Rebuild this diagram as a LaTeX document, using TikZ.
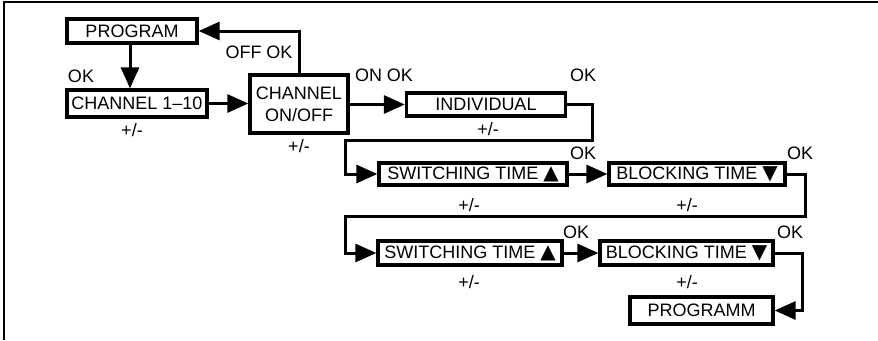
\documentclass[tikz,border=0pt]{standalone}
\usepackage{fontspec}
\setmainfont{Liberation Sans}
\newfontfamily\symfont{DejaVu Sans}
\newcommand{\uptri}{{\symfont\fontsize{20}{21}\selectfont ▲}}
\newcommand{\downtri}{{\symfont\fontsize{20}{21}\selectfont ▼}}
\usetikzlibrary{arrows.meta}
\begin{document}
\begin{tikzpicture}[x=1pt,y=-1pt,
  every node/.style={font=\fontsize{18}{22}\selectfont, inner sep=0pt},
  menubox/.style={draw, line width=3.3pt, align=center},
  lbl/.style={},
  conn/.style={line width=3pt, -{Triangle[length=21pt,width=18pt]}}]
\useasboundingbox (0,0) rectangle (878,340);
\draw[line width=2.5pt] (4,340) -- (4,2) -- (878,2);

\node[menubox, minimum width=130pt, minimum height=24pt] (prog) at (132,31) {PROGRAM};
\node[menubox, minimum width=140pt, minimum height=27pt] (ch) at (137,103.5) {CHANNEL 1--10};
\node[menubox, minimum width=98pt, minimum height=58pt] (onoff) at (299,104) {CHANNEL\\ON/OFF};
\node[menubox, minimum width=159pt, minimum height=23pt] (indiv) at (486,104.5) {INDIVIDUAL};
\node[menubox, minimum width=188pt, minimum height=22pt] (swa) at (473,174) {SWITCHING TIME \uptri};
\node[menubox, minimum width=176pt, minimum height=22pt] (bla) at (697,174) {BLOCKING TIME \downtri};
\node[menubox, minimum width=184pt, minimum height=24pt] (swb) at (470,253) {SWITCHING TIME \uptri};
\node[menubox, minimum width=173pt, minimum height=24pt] (blb) at (686.5,253) {BLOCKING TIME \downtri};
\node[menubox, minimum width=143pt, minimum height=27pt] (progm) at (701.5,310.5) {PROGRAMM};

\coordinate (t1) at (592,140);
\coordinate (t2) at (345,140);
\coordinate (t3) at (805,216);
\coordinate (t4) at (345,216);
\coordinate (t5) at (802,310.5);

\draw[conn] ([xshift=-2pt]prog.south) -- ([xshift=-2pt]prog.south |- ch.north);
\draw[conn] (ch.east) -- (onoff.west |- ch.east);
\draw[conn] (onoff.north) |- (prog.east);
\draw[conn] (onoff.east |- indiv.west) -- (indiv.west);
\draw[conn] (indiv.east) -| (t1) -- (t2) |- (swa.west);
\draw[conn] (swa.east) -- (bla.west);
\draw[conn] (bla.east) -| (t3) -- (t4) |- (swb.west);
\draw[conn] (swb.east) -- (blb.west);
\draw[conn] (blb.east) -| (t5) -- (progm.east);

\node[lbl] (l1) at (81,76) {OK};
\node[lbl] (l2) at (259,52) {OFF OK};
\node[lbl] (l3) at (384,75) {ON OK};
\node[lbl] (l4) at (583,75) {OK};
\node[lbl] (l5) at (132,130) {+/-};
\node[lbl] (l6) at (299,146) {+/-};
\node[lbl] (l7) at (488,129) {+/-};
\node[lbl] (l8) at (583,153) {OK};
\node[lbl] (l9) at (800,153) {OK};
\node[lbl] (l10) at (469,205) {+/-};
\node[lbl] (l11) at (687,205) {+/-};
\node[lbl] (l12) at (576,232) {OK};
\node[lbl] (l13) at (790,232) {OK};
\node[lbl] (l14) at (469,282) {+/-};
\node[lbl] (l15) at (687,282) {+/-};
\end{tikzpicture}
\end{document}
